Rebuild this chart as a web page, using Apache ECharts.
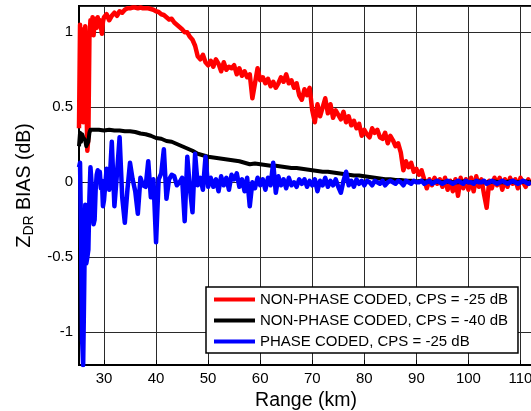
<!DOCTYPE html>
<html>
<head>
<meta charset="utf-8">
<script src="https://cdn.jsdelivr.net/npm/echarts@6/dist/echarts.min.js"></script>
<style>html,body{margin:0;padding:0;background:#fff}#c{width:531px;height:411px}</style>
</head>
<body>
<div id="c"></div>
<script>
// Range sample grid (km) for red and blue series
const rangeKm = [
  25.2,25.4,25.6,25.8,26.0,26.2,26.4,26.6,26.8,27.0,27.2,27.4,27.6,27.8,28.0,28.2,28.4,28.6,28.8,29.0,29.2,29.4,29.6,29.8,30.0,
  30.5,31.0,31.5,32.0,32.5,33.0,33.5,34.0,34.5,35.0,
  35.5,36.0,36.5,37.0,37.5,38.0,38.5,39.0,39.5,40.0,
  40.5,41.0,41.5,42.0,42.5,43.0,43.5,44.0,44.5,45.0,
  45.5,46.0,46.5,47.0,47.5,48.0,48.5,49.0,49.5,50.0,
  50.5,51.0,51.5,52.0,52.5,53.0,53.5,54.0,54.5,55.0,
  55.5,56.0,56.5,57.0,57.5,58.0,58.5,59.0,59.5,60.0,
  60.5,61.0,61.5,62.0,62.5,63.0,63.5,64.0,64.5,65.0,
  65.5,66.0,66.5,67.0,67.5,68.0,68.5,69.0,69.5,70.0,
  70.5,71.0,71.5,72.0,72.5,73.0,73.5,74.0,74.5,75.0,
  75.5,76.0,76.5,77.0,77.5,78.0,78.5,79.0,79.5,80.0,
  80.5,81.0,81.5,82.0,82.5,83.0,83.5,84.0,84.5,85.0,
  85.5,86.0,86.5,87.0,87.5,88.0,88.5,89.0,89.5,90.0,
  90.5,91.0,91.5,92.0,92.5,93.0,93.5,94.0,94.5,95.0,
  95.5,96.0,96.5,97.0,97.5,98.0,98.5,99.0,99.5,100.0,
  100.5,101.0,101.5,102.0,102.5,103.0,103.5,104.0,104.5,105.0,
  105.5,106.0,106.5,107.0,107.5,108.0,108.5,109.0,109.5,110.0,
  110.5,111.0,111.5,112.0
];
const nonPhase25 = [
  0.36,1.05,0.48,1.02,0.40,0.96,1.04,0.62,0.21,0.30,0.96,1.08,1.00,1.10,0.98,1.06,1.09,1.03,1.10,1.05,1.08,1.04,0.99,1.07,1.10,
  1.12,1.08,1.11,1.13,1.11,1.14,1.13,1.15,1.16,1.16,
  1.165,1.165,1.16,1.165,1.16,1.16,1.16,1.155,1.15,1.14,
  1.135,1.12,1.115,1.10,1.085,1.09,1.065,1.05,1.035,1.02,
  1.00,1.00,0.97,0.95,0.91,0.84,0.82,0.85,0.80,0.78,
  0.81,0.77,0.82,0.79,0.74,0.80,0.75,0.77,0.76,0.78,
  0.72,0.76,0.71,0.74,0.70,0.72,0.56,0.66,0.76,0.68,
  0.70,0.66,0.69,0.64,0.67,0.63,0.66,0.70,0.67,0.72,
  0.66,0.68,0.63,0.66,0.58,0.55,0.62,0.58,0.63,0.48,
  0.40,0.52,0.44,0.50,0.56,0.46,0.52,0.43,0.48,0.45,
  0.42,0.47,0.40,0.44,0.38,0.41,0.36,0.39,0.31,0.35,
  0.32,0.30,0.36,0.33,0.35,0.30,0.29,0.33,0.26,0.31,
  0.28,0.24,0.26,0.20,0.08,0.14,0.10,0.13,0.07,0.09,
  0.05,0.08,0.02,-0.04,0.02,-0.02,0.03,-0.01,0.02,-0.03,
  0.03,-0.05,0.01,-0.06,0.02,-0.09,0.03,-0.04,0.02,-0.05,
  0.03,-0.06,0.04,-0.03,0.02,-0.08,-0.17,0.01,-0.04,0.03,
  -0.02,0.03,-0.05,0.02,-0.03,0.03,-0.01,0.02,-0.04,0.03,
  0.00,-0.03,0.02,-0.02
];
const phase25 = [
  0.10,0.13,-0.35,-1.05,-1.22,-0.70,-0.15,-0.54,-0.50,-0.45,-0.10,0.10,0.00,-0.20,-0.28,-0.25,-0.05,0.05,0.08,0.02,0.07,-0.04,0.01,-0.16,-0.12,
  0.09,-0.05,0.27,-0.16,0.06,0.30,-0.10,-0.27,-0.05,0.13,
  0.02,-0.06,-0.21,0.03,-0.02,-0.03,0.14,-0.10,0.02,-0.40,
  0.02,0.06,0.22,-0.11,0.02,0.05,0.04,-0.02,0.00,0.03,
  -0.26,0.17,-0.04,-0.20,0.19,-0.02,0.03,-0.05,0.17,-0.03,
  0.03,-0.03,0.02,-0.06,0.04,-0.02,0.03,-0.05,0.05,0.02,
  0.06,-0.03,0.02,-0.06,0.03,-0.16,0.00,-0.04,0.03,-0.02,
  0.02,-0.05,0.03,-0.02,0.13,-0.07,0.04,-0.02,0.02,-0.04,
  0.03,-0.02,0.00,-0.03,0.02,-0.01,0.02,-0.03,0.01,-0.02,
  0.02,-0.06,0.01,-0.02,0.03,-0.03,0.01,-0.02,0.02,-0.03,
  -0.07,0.01,0.07,-0.02,0.01,-0.03,0.02,-0.01,0.01,-0.02,
  0.01,0.00,-0.02,0.01,0.00,-0.01,0.01,-0.02,0.00,0.01,
  0.00,-0.01,0.01,0.00,-0.02,0.01,0.00,-0.01,0.01,0.00,
  0.00,0.01,-0.01,0.00,0.01,-0.01,0.00,0.01,0.00,-0.01,
  0.00,0.01,0.00,-0.01,0.00,0.01,0.00,-0.01,0.01,0.00,
  0.00,-0.01,0.01,0.00,0.00,0.01,-0.01,0.00,0.01,0.00,
  -0.01,0.00,0.01,0.00,-0.01,0.00,0.01,0.00,-0.01,0.00,
  0.01,0.00,-0.01,0.00
];
// Black series has its own (coarser) sampling
const rangeKmBlack = [
  25.2,25.4,25.6,25.8,26.0,26.2,26.4,26.6,26.8,27.0,27.2,27.4,27.6,27.8,28.0,
  29,30,31,32,33,34,35,36,37,38,39,40,41,42,43,44,45,46,47,48,49,50,
  51,52,53,54,55,56,57,58,59,60,61,62,63,64,65,66,67,68,69,70,
  71,72,73,74,75,76,77,78,79,80,81,82,83,84,85,86,87,88,89,90,
  91,92,93,94,95,96,97,98,99,100,101,102,103,104,105,106,107,108,109,110,111,112
];
const nonPhase40 = [
  0.24,0.33,0.27,0.32,0.30,0.31,0.28,0.24,0.23,0.27,0.33,0.35,0.345,0.35,0.345,
  0.35,0.345,0.35,0.345,0.345,0.34,0.34,0.335,0.325,0.32,0.31,0.295,0.29,0.275,0.27,0.255,0.24,0.225,0.21,0.19,0.18,0.17,
  0.165,0.16,0.155,0.15,0.145,0.14,0.13,0.12,0.125,0.12,0.115,0.11,0.11,0.105,0.10,0.095,0.095,0.09,0.085,0.08,
  0.075,0.07,0.07,0.065,0.06,0.055,0.05,0.045,0.045,0.04,0.035,0.03,0.025,0.02,0.02,0.015,0.015,0.01,0.01,0.005,
  0.01,0.005,0.0,0.005,0.0,0.005,0.0,0.0,0.005,0.0,0.0,0.005,0.0,0.0,0.005,0.0,0.0,0.005,0.0,0.0,0.005,0.0
];
const seriesNames = ['NON-PHASE CODED, CPS = -25 dB','NON-PHASE CODED, CPS = -40 dB','PHASE CODED, CPS = -25 dB'];
const seriesColors = ['#ff0000','#000000','#0000ff'];

const font = 'Liberation Sans, Arial, sans-serif';
const pair = (xs, ys) => xs.map((x, i) => [x, ys[i]]);

const chart = echarts.init(document.getElementById('c'), null, {renderer: 'canvas'});
chart.setOption({
  animation: false,
  backgroundColor: '#fff',
  grid: {left: 79, right: -2, top: 6, bottom: 46, show: true, borderColor: '#000', borderWidth: 2, containLabel: false, outerBoundsMode: 'none'},
  xAxis: {
    type: 'value', min: 25.2, max: 112.4, splitNumber: 9,
    name: 'Range (km)', nameLocation: 'middle', nameGap: 24,
    nameTextStyle: {fontFamily: font, fontSize: 19.5, color: '#000'},
    axisLine: {show: true, onZero: false, lineStyle: {color: '#000', width: 2}},
    axisTick: {show: true, inside: true, length: 5, lineStyle: {color: '#000'}},
    axisLabel: {fontFamily: font, fontSize: 15, color: '#000', margin: 6, showMinLabel: false, showMaxLabel: false},
    splitLine: {show: true, lineStyle: {color: '#2a2a2a', width: 1}}
  },
  yAxis: {
    type: 'value', min: -1.218, max: 1.175, splitNumber: 5,
    name: '{z|Z}{s|DR}{n| BIAS (dB)}', nameLocation: 'middle', nameGap: 41, nameRotate: 90,
    nameTextStyle: {
      fontFamily: font, color: '#000',
      rich: {
        z: {fontFamily: font, fontSize: 20, lineHeight: 24, color: '#000'},
        s: {fontFamily: font, fontSize: 14, lineHeight: 9, verticalAlign: 'bottom', color: '#000'},
        n: {fontFamily: font, fontSize: 19.5, lineHeight: 24, color: '#000'}
      }
    },
    axisLine: {show: true, onZero: false, lineStyle: {color: '#000', width: 2}},
    axisTick: {show: true, inside: true, length: 5, lineStyle: {color: '#000'}},
    axisLabel: {fontFamily: font, fontSize: 15, color: '#000', margin: 6, showMinLabel: false, showMaxLabel: false},
    splitLine: {show: true, lineStyle: {color: '#2a2a2a', width: 1}}
  },
  legend: {
    orient: 'vertical', left: 206, top: 287,
    padding: [4, 10, 3, 8], itemGap: 4, itemWidth: 41, itemHeight: 4, icon: 'rect',
    borderColor: '#000', borderWidth: 1.5, backgroundColor: '#fff',
    textStyle: {fontFamily: font, fontSize: 15, color: '#000', lineHeight: 17},
    data: seriesNames
  },
  series: [
    {name: seriesNames[0], type: 'line', data: pair(rangeKm, nonPhase25), showSymbol: false, color: seriesColors[0], lineStyle: {width: 4.5, color: seriesColors[0], join: 'round'}},
    {name: seriesNames[1], type: 'line', data: pair(rangeKmBlack, nonPhase40), showSymbol: false, color: seriesColors[1], lineStyle: {width: 4, color: seriesColors[1], join: 'round'}},
    {name: seriesNames[2], type: 'line', data: pair(rangeKm, phase25), showSymbol: false, color: seriesColors[2], lineStyle: {width: 4.5, color: seriesColors[2], join: 'round'}}
  ]
});
</script>
</body>
</html>
